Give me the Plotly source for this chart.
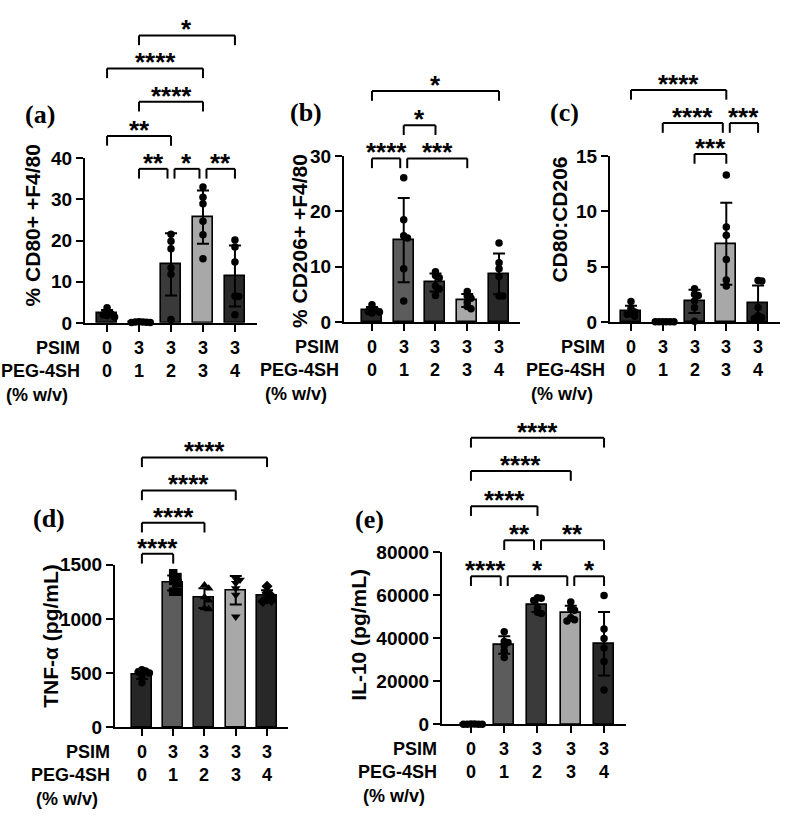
import numpy as np
import plotly.graph_objects as go

W, H = 800, 829
FONT = "Liberation Sans"
SERIF = "Liberation Serif"

# ---------------- data ----------------
groups = [0, 1, 2, 3, 4]
psim_levels = ["0", "3", "3", "3", "3"]
peg_levels = ["0", "1", "2", "3", "4"]
bar_colors = ["#262626", "#5c5c5c", "#3a3a3a", "#a8a8a8", "#282828"]

cd80_values = [
    [3.7, 2.8, 2.2, 2.0, 1.8, 1.4],
    [0.3, 0.2, 0.15, 0.1, 0.1, 0.2],
    [21.5, 19.8, 18.0, 13.4, 11.8, 0.8],
    [33.0, 30.5, 28.9, 24.7, 21.4, 15.6],
    [20.1, 18.4, 14.8, 6.5, 6.4, 2.0],
]
cd206_values = [
    [3.1, 2.4, 2.1, 1.9, 1.8, 1.6],
    [26.1, 18.5, 15.2, 15.6, 9.6, 3.8],
    [9.1, 8.4, 8.0, 6.5, 6.0, 4.8],
    [5.5, 4.7, 4.3, 3.5, 2.8, 2.4],
    [14.3, 10.7, 9.6, 8.2, 4.7, 4.7],
]
ratio_values = [
    [1.85, 1.2, 0.9, 0.8, 0.7, 0.5],
    [0.02, 0.02, 0.01, 0.01, 0.02, 0.01],
    [3.0, 2.5, 2.4, 1.9, 1.3, 0.05],
    [13.3, 8.6, 7.85, 5.65, 3.24, 3.8],
    [3.75, 3.7, 1.3, 0.55, 0.4, 0.3],
]
tnf_values = [
    [530, 520, 510, 500, 470, 410],
    [1420, 1385, 1350, 1330, 1250, 1250],
    [1310, 1280, 1200, 1170, 1100, 1090],
    [1370, 1360, 1330, 1280, 1220, 1020],
    [1300, 1240, 1210, 1180, 1170, 1160],
]
il10_values = [
    [200, 150, 100, 100, 80, 50],
    [43000, 38500, 38000, 36500, 34000, 31000],
    [58800, 58500, 57500, 54000, 52000, 51500],
    [56800, 53500, 53000, 49500, 48500, 48000],
    [59800, 44300, 39800, 35500, 29200, 16000],
]

cd80_ticks = [0, 10, 20, 30, 40]
cd206_ticks = [0, 10, 20, 30]
ratio_ticks = [0, 5, 10, 15]
tnf_ticks = [0, 500, 1000, 1500]
il10_ticks = [0, 20000, 40000, 60000, 80000]

# comparisons: (group i, group j, bracket level in data units, significance)
cd80_comps = [(1, 2, 37.4, "**"), (2, 3, 37.4, "*"), (3, 4, 37.4, "**"),
              (0, 2, 45.4, "**"), (1, 3, 53.7, "****"), (0, 3, 61.8, "****"),
              (1, 4, 69.8, "*")]
cd206_comps = [(0, 1, 29.6, "****"), (1, 3, 29.6, "***"), (1, 2, 35.6, "*"),
               (0, 4, 41.8, "*")]
ratio_comps = [(2, 3, 15.2, "***"), (1, 3, 18.0, "****"), (3, 4, 18.0, "***"),
               (0, 3, 21.0, "****")]
tnf_comps = [(0, 1, 1599, "****"), (0, 2, 1886, "****"), (0, 3, 2183, "****"),
             (0, 4, 2488, "****")]
il10_comps = [(0, 1, 68700, "****"), (1, 3, 68700, "*"), (3, 4, 68700, "*"),
              (1, 2, 85400, "**"), (2, 4, 85400, "**"), (0, 2, 101200, "****"),
              (0, 3, 117500, "****"), (0, 4, 132900, "****")]

circles = ["circle"] * 5
tnf_symbols = ["circle", "square", "triangle-up", "triangle-down", "diamond"]

panels = [
    dict(vals=cd80_values, ticks=cd80_ticks, comps=cd80_comps, symbols=circles,
         title="% CD80+ +F4/80", label="(a)",
         box=(85, 257, 152, 321), xrange=(-0.69, 4.69),
         title_xy=(32, 221), label_xy=(40, 107)),
    dict(vals=cd206_values, ticks=cd206_ticks, comps=cd206_comps, symbols=circles,
         title="% CD206+ +F4/80", label="(b)",
         box=(344, 520, 150, 320), xrange=(-0.88, 4.66),
         title_xy=(300, 237), label_xy=(306, 105)),
    dict(vals=ratio_values, ticks=ratio_ticks, comps=ratio_comps, symbols=circles,
         title="CD80:CD206", label="(c)",
         box=(610, 780, 150, 320), xrange=(-0.66, 4.69),
         title_xy=(560, 215), label_xy=(564, 105)),
    dict(vals=tnf_values, ticks=tnf_ticks, comps=tnf_comps, symbols=tnf_symbols,
         title="TNF-α (pg/mL)", label="(d)",
         box=(115, 288, 569, 736), xrange=(-0.86, 4.67),
         title_xy=(51, 642), label_xy=(49, 522)),
    dict(vals=il10_values, ticks=il10_ticks, comps=il10_comps, symbols=circles,
         title="IL-10 (pg/mL)", label="(e)",
         box=(442, 626, 556, 733), xrange=(-0.87, 4.66),
         title_xy=(359, 641), label_xy=(369, 523)),
]


def swarm(vals, ppu, d):
    """deterministic beeswarm offsets in px"""
    vals = np.asarray(vals, float)
    order = np.argsort(-vals, kind="stable")
    step = 0.5 * d
    cands = [0.0] + [s * m * step for m in range(1, 12) for s in (1, -1)]
    placed = []
    offs = np.zeros(len(vals))
    for idx in order:
        y = vals[idx] * ppu
        for c in cands:
            if all((c - px) ** 2 + (y - py) ** 2 >= (step * 0.999) ** 2 for px, py in placed):
                offs[idx] = c
                placed.append((c, y))
                break
    return offs


def ppos(x, y):
    return x / W, 1 - y / H


def B(t):
    return "<b>" + t + "</b>"


fig = go.Figure()
LW = 2
TICK_FS = 19
CAT_FS = 18
TITLE_FS = 21
STAR_FS = 26
bold = dict(family=FONT, color="black", weight=700)

for k, p in enumerate(panels):
    s = "" if k == 0 else str(k + 1)
    xa, ya = "x" + s, "y" + s
    l, r, t, b = p["box"]
    x0r, x1r = p["xrange"]
    ymax = p["ticks"][-1]
    ppu = (b - t) / ymax
    ppc = (r - l) / (x1r - x0r)
    hpx = b - t

    means = [float(np.mean(v)) for v in p["vals"]]
    sds = [float(np.std(v, ddof=1)) for v in p["vals"]]
    fig.add_trace(go.Bar(
        x=groups, y=means, width=20 / ppc,
        marker=dict(color=bar_colors, line=dict(color="black", width=1.6)),
        error_y=dict(type="data", array=sds, color="black", thickness=2, width=6),
        xaxis=xa, yaxis=ya, showlegend=False, hoverinfo="skip"))
    for g, vals in enumerate(p["vals"]):
        msize = 7.5 if p["symbols"][g] == "circle" else 8.5
        offs = swarm(vals, ppu, msize) / ppc
        fig.add_trace(go.Scatter(
            x=[g + o for o in offs], y=vals, mode="markers",
            marker=dict(symbol=p["symbols"][g], size=msize, color="black", line=dict(width=0)),
            cliponaxis=False, xaxis=xa, yaxis=ya, showlegend=False, hoverinfo="skip"))

    fig.layout["xaxis" + s] = dict(
        domain=[l / W, r / W], range=list(p["xrange"]), anchor=ya,
        showline=True, linewidth=LW, linecolor="black", ticks="outside",
        ticklen=7, tickwidth=LW, tickcolor="black", tickvals=groups,
        showticklabels=False, showgrid=False, zeroline=False, fixedrange=True)
    fig.layout["yaxis" + s] = dict(
        domain=[1 - b / H, 1 - t / H], range=[0, ymax], anchor=xa,
        showline=True, linewidth=LW, linecolor="black", ticks="outside",
        ticklen=7, tickwidth=LW, tickcolor="black", tickvals=p["ticks"],
        ticktext=[B(str(v)) for v in p["ticks"]],
        tickfont=dict(size=TICK_FS, **bold), showgrid=False, zeroline=False, fixedrange=True)

    # comparison brackets
    shrink = 3.5 / ppc
    leg = 10 / hpx
    for (i, j, lev, txt) in p["comps"]:
        xs, xe = float(i), float(j)
        for (i2, j2, lev2, _) in p["comps"]:
            if lev2 == lev and j2 == i:
                xs += shrink
            if lev2 == lev and i2 == j:
                xe -= shrink
        yl = lev / ymax
        for (ax0, ay0, ax1, ay1) in [(xs, yl - leg, xs, yl), (xs, yl, xe, yl), (xe, yl, xe, yl - leg)]:
            fig.add_shape(type="line", x0=ax0, x1=ax1, y0=ay0, y1=ay1,
                          xref=xa, yref=ya + " domain",
                          line=dict(color="black", width=LW))
        fig.add_annotation(x=(xs + xe) / 2, y=yl, xref=xa, yref=ya + " domain",
                           text=B(txt), showarrow=False, yanchor="bottom", yshift=-11,
                           font=dict(size=STAR_FS, **bold))

    # category labels
    for g in groups:
        fig.add_annotation(x=g, y=0, xref=xa, yref=ya + " domain", text=B(psim_levels[g]),
                           showarrow=False, yanchor="middle", yshift=-25,
                           font=dict(size=CAT_FS, **bold))
        fig.add_annotation(x=g, y=0, xref=xa, yref=ya + " domain", text=B(peg_levels[g]),
                           showarrow=False, yanchor="middle", yshift=-48,
                           font=dict(size=CAT_FS, **bold))
    for txt, ysh, xsh in [("PSIM", -25, -3), ("PEG-4SH", -48, -3), ("(% w/v)", -72, -15)]:
        fig.add_annotation(x=0, y=0, xref=xa + " domain", yref=ya + " domain", text=B(txt),
                           showarrow=False, xanchor="right", yanchor="middle",
                           xshift=xsh, yshift=ysh, font=dict(size=CAT_FS, **bold))

    # axis title and panel label
    tx, ty = ppos(*p["title_xy"])
    fig.add_annotation(x=tx, y=ty, xref="paper", yref="paper", text=B(p["title"]),
                       textangle=-90, showarrow=False, xanchor="center", yanchor="middle",
                       font=dict(size=TITLE_FS, **bold))
    lx, ly = ppos(*p["label_xy"])
    fig.add_annotation(x=lx, y=ly, xref="paper", yref="paper", text=B(p["label"]),
                       showarrow=False, xanchor="center", yanchor="middle",
                       font=dict(size=26, family=SERIF, color="black", weight=700))

fig.update_layout(width=W, height=H, margin=dict(l=0, r=0, t=0, b=0),
                  paper_bgcolor="white", plot_bgcolor="white", bargap=0,
                  showlegend=False)
fig.write_html("out.html")
